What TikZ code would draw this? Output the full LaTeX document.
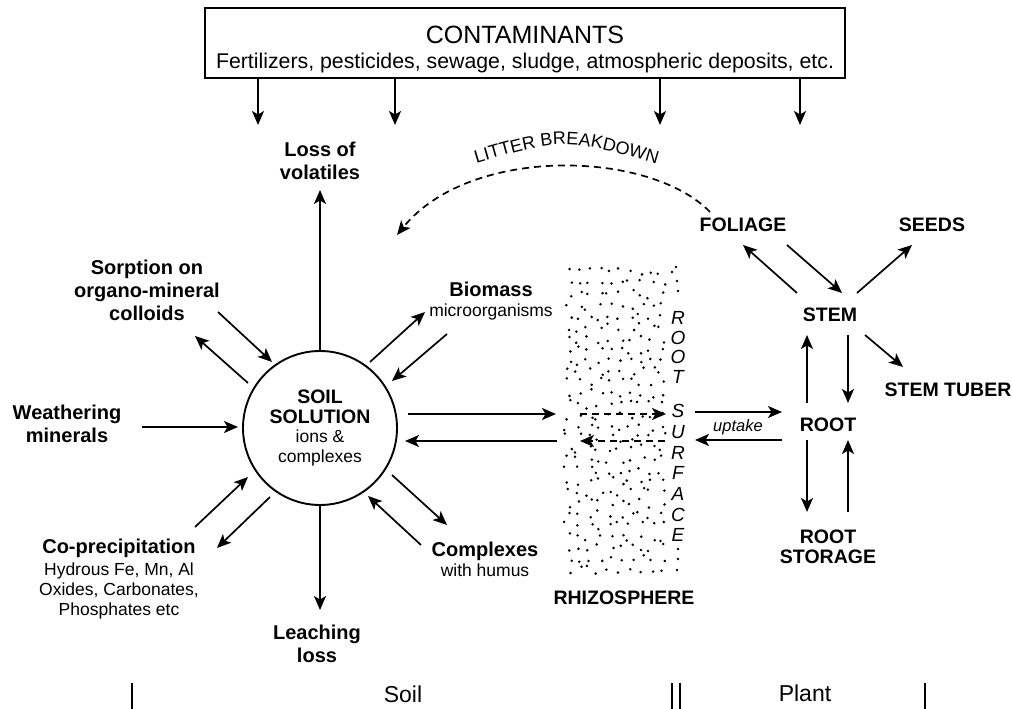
\documentclass[tikz,border=0pt]{standalone}
\usepackage{fontspec}
\setmainfont{Liberation Sans}
\usetikzlibrary{arrows.meta,decorations.text}
\begin{document}
\begin{tikzpicture}[x=1pt,y=1pt,
  lab/.style={font=\bfseries\fontsize{20}{23}\selectfont, align=center, inner sep=0pt},
  arr/.style={line width=1.7pt, -{Stealth[length=14pt,width=12pt,inset=3.5pt]}},
  dsh/.style={arr, dash pattern=on 7pt off 5pt},
  bar/.style={line width=1.7pt},
  rs/.style={font=\itshape\fontsize{19}{19}\selectfont, inner sep=0pt}
]
\useasboundingbox (0,0) rectangle (1012,709);

% ---------- contaminant sources ----------
\node[draw, line width=1.4pt, minimum width=640pt, minimum height=70pt, inner sep=0pt] (cont) at (525,666) {};
\node[anchor=base, inner sep=0pt, font=\fontsize{25}{25}\selectfont] (ctitle) at (525,665) {CONTAMINANTS};
\node[anchor=base, inner sep=0pt, font=\fontsize{21.3}{22}\selectfont] (csub) at (525,640) {Fertilizers, pesticides, sewage, sludge, atmospheric deposits, etc.};
\foreach \xx [count=\k] in {258,395,660,800} {
  \coordinate (d\k) at (\xx,584);
  \draw[arr] (d\k |- cont.south) -- (d\k);
}

% ---------- soil side ----------
\node[draw, circle, minimum size=154pt, line width=1.9pt, inner sep=0pt, align=center,
      font=\bfseries\fontsize{19.5}{19.5}\selectfont] (sol) at (320,281)
  {SOIL\\SOLUTION\\{\mdseries\fontsize{17.5}{19.5}\selectfont ions \&}\\{\mdseries\fontsize{17.5}{19.5}\selectfont complexes}};

\node[lab] (vol) at (320,548) {Loss of\\volatiles};
\node[lab] (sorp) at (147,419) {Sorption on\\organo-mineral\\colloids};
\node[lab] (bio) at (491,408) {Biomass\\[-3pt]{\mdseries\fontsize{17.5}{20}\selectfont microorganisms}};
\node[lab] (wea) at (67,285) {Weathering\\minerals};
\node[lab, font=\bfseries\fontsize{20}{20}\selectfont] (cop) at (119,130)
  {Co-precipitation\\[2pt]{\mdseries\fontsize{17.5}{20}\selectfont Hydrous Fe, Mn, Al}\\{\mdseries\fontsize{17.5}{20}\selectfont Oxides, Carbonates,}\\{\mdseries\fontsize{17.5}{20}\selectfont Phosphates etc}};
\node[lab] (lea) at (317,65) {Leaching\\loss};
\node[lab, font=\bfseries\fontsize{20}{20}\selectfont] (cpx) at (485,150) {Complexes\\{\mdseries\fontsize{17.5}{20}\selectfont with humus}};

% arrow end points
\coordinate (volA) at (320,519);
\coordinate (sorpA) at (218,397); \coordinate (sorpB) at (272,347);
\coordinate (sorpC) at (248,326); \coordinate (sorpD) at (195,373);
\coordinate (bioA) at (370,347);  \coordinate (bioB) at (425,397);
\coordinate (bioC) at (447,375);  \coordinate (bioD) at (392,328);
\coordinate (weaA) at (142,282);  \coordinate (weaB) at (238,282);
\coordinate (copA) at (195,182);  \coordinate (copB) at (248,232);
\coordinate (copC) at (270,212);  \coordinate (copD) at (217,161);
\coordinate (leaA) at (320,99);
\coordinate (cpxA) at (392,234);  \coordinate (cpxB) at (447,184);
\coordinate (cpxC) at (421,164);  \coordinate (cpxD) at (368,213);

\draw[arr] (sol.north) -- (volA);
\draw[arr] (sorpA) -- (sorpB);
\draw[arr] (sorpC) -- (sorpD);
\draw[arr] (bioA) -- (bioB);
\draw[arr] (bioC) -- (bioD);
\draw[arr] (weaA) -- (weaB);
\draw[arr] (copA) -- (copB);
\draw[arr] (copC) -- (copD);
\draw[arr] (sol.south) -- (leaA);
\draw[arr] (cpxA) -- (cpxB);
\draw[arr] (cpxC) -- (cpxD);

% ---------- rhizosphere: stippled band ----------
\pgfmathsetseed{4711}
\foreach \c in {0,...,9} {
  \foreach \r in {0,...,27} {
    \pgfmathsetmacro\px{564+\c*10.4+8*rnd}
    \pgfmathsetmacro\py{135+\r*11+9*rnd}
    \fill (\px,\py) circle (1.4pt);
  }
}
\foreach \p in {(677,428),(678,418),(678,150),(677,139),(678,160),(676,442),(672,437)} {
  \fill \p circle (1.4pt);
}

\foreach \ch/\yy in {R/391,O/371,O/352,T/332,S/298,U/277,R/256,F/236,A/215,C/194,E/174} {
  \node[rs] at (678,\yy) {\ch};
}
\node[lab, font=\bfseries\fontsize{19.5}{20}\selectfont] (rhiz) at (624,111) {RHIZOSPHERE};

\coordinate (hA) at (408,295); \coordinate (hB) at (556,295);
\coordinate (hC) at (580,295); \coordinate (hD) at (666,295);
\coordinate (hE) at (557,268); \coordinate (hF) at (405,268);
\coordinate (hG) at (665,268); \coordinate (hH) at (580,268);
\draw[arr] (hA) -- (hB);
\draw[dsh] (hC) -- (hD);
\draw[arr] (hE) -- (hF);
\draw[dsh] (hG) -- (hH);

% ---------- plant side ----------
\node[lab, font=\bfseries\fontsize{19.5}{20}\selectfont] (fol) at (743,484) {FOLIAGE};
\node[lab, font=\bfseries\fontsize{19.5}{20}\selectfont] (see) at (932,484) {SEEDS};
\node[lab, font=\bfseries\fontsize{19.5}{20}\selectfont] (stem) at (830,394) {STEM};
\node[lab, font=\bfseries\fontsize{19.5}{20}\selectfont] (tub) at (948,319) {STEM TUBER};
\node[lab, font=\bfseries\fontsize{19.5}{20}\selectfont] (root) at (828,284) {ROOT};
\node[lab, font=\bfseries\fontsize{19.5}{20}\selectfont] (sto) at (828,162) {ROOT\\STORAGE};
\node[inner sep=0pt, font=\itshape\fontsize{16.5}{17}\selectfont] (upt) at (738,282) {uptake};

\coordinate (pA) at (797,416); \coordinate (pB) at (743,464);
\coordinate (pC) at (787,464); \coordinate (pD) at (842,416);
\coordinate (pE) at (857,416); \coordinate (pF) at (912,464);
\coordinate (pG) at (865,374); \coordinate (pH) at (903,342);
\coordinate (pI) at (807,306); \coordinate (pJ) at (807,374);
\coordinate (pK) at (848,374); \coordinate (pL) at (848,306);
\coordinate (pM) at (807,269); \coordinate (pN) at (807,197);
\coordinate (pO) at (848,197); \coordinate (pP) at (848,269);
\coordinate (uA) at (695,297); \coordinate (uB) at (782,297);
\coordinate (uC) at (782,269); \coordinate (uD) at (695,269);

\draw[arr] (pA) -- (pB);
\draw[arr] (pC) -- (pD);
\draw[arr] (pE) -- (pF);
\draw[arr] (pG) -- (pH);
\draw[arr] (pI) -- (pJ);
\draw[arr] (pK) -- (pL);
\draw[arr] (pM) -- (pN);
\draw[arr] (pO) -- (pP);
\draw[arr] (uA) -- (uB);
\draw[arr] (uC) -- (uD);

% ---------- litter breakdown ----------
\coordinate (lbA) at (710,497);
\coordinate (lbB) at (397,474);
\draw[dsh] (lbA) .. controls (650,559) and (470,564) .. (lbB);
\path[decorate, decoration={text along path, text align=center,
  text={|\fontsize{18}{18}\selectfont|LITTER BREAKDOWN}}]
  (463,542) .. controls (565,572) .. (670,541);

% ---------- soil / plant scale ----------
\draw[bar] (132,0) -- (132,26);
\draw[bar] (672,0) -- (672,26);
\draw[bar] (680,0) -- (680,26);
\draw[bar] (925,0) -- (925,26);
\node[inner sep=0pt, font=\fontsize{23}{23}\selectfont] (soil) at (403,15) {Soil};
\node[inner sep=0pt, font=\fontsize{23}{23}\selectfont] (plant) at (805,16) {Plant};
\end{tikzpicture}
\end{document}
